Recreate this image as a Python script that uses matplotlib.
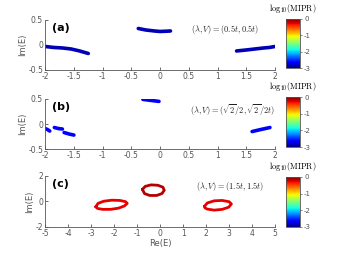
import matplotlib
matplotlib.use("Agg")
import matplotlib.pyplot as plt
import numpy as np
from matplotlib.colors import Normalize
from matplotlib.cm import ScalarMappable

# panel (a): (lambda, V) = (0.5t, 0.5t)
a_re = [[-2.0, -1.85, -1.7, -1.55, -1.4, -1.25],
        [-0.38, -0.25, -0.1, 0.0, 0.1, 0.18],
        [1.33, 1.5, 1.65, 1.8, 1.9, 2.0]]
a_im = [[-0.03, -0.05, -0.06, -0.08, -0.12, -0.17],
        [0.33, 0.3, 0.28, 0.27, 0.275, 0.28],
        [-0.12, -0.1, -0.08, -0.06, -0.05, -0.03]]
a_mipr = [-2.85, -2.85, -2.85]

# panel (b): (lambda, V) = (sqrt2/2, sqrt2/2t)
b_re = [[-2.0, -1.96, -1.92],
        [-1.84, -1.77, -1.7],
        [-1.67, -1.58, -1.5],
        [-0.3, -0.16, -0.02],
        [1.6, 1.75, 1.91]]
b_im = [[-0.09, -0.11, -0.14],
        [-0.07, -0.09, -0.1],
        [-0.17, -0.2, -0.22],
        [0.49, 0.47, 0.45],
        [-0.15, -0.11, -0.07]]
b_mipr = [-2.65, -2.65, -2.65, -2.65, -2.65]

# panel (c): (lambda, V) = (1.5t, 1.5t)
c_re = [[-2.8, -2.7, -2.45, -2.1, -1.75, -1.5, -1.43, -1.55, -1.8, -2.15, -2.5, -2.72, -2.8],
        [-0.77, -0.65, -0.4, -0.1, 0.12, 0.18, 0.08, -0.15, -0.45, -0.68, -0.77],
        [1.93, 2.05, 2.35, 2.7, 3.0, 3.1, 2.98, 2.7, 2.35, 2.05, 1.95, 1.93]]
c_im = [[-0.42, -0.15, 0.02, 0.1, 0.08, -0.02, -0.15, -0.35, -0.52, -0.62, -0.62, -0.55, -0.42],
        [0.95, 1.18, 1.3, 1.27, 1.12, 0.88, 0.62, 0.47, 0.47, 0.62, 0.95],
        [-0.38, -0.12, 0.05, 0.08, -0.02, -0.2, -0.45, -0.62, -0.68, -0.6, -0.5, -0.38]]
c_mipr = [-0.28, -0.15, -0.28]

labels = ["(a)", "(b)", "(c)"]
params = [r"$(\lambda, V) = (0.5t, 0.5t)$",
          r"$(\lambda, V) = (\sqrt{2}/2, \sqrt{2}/2t)$",
          r"$(\lambda, V) = (1.5t, 1.5t)$"]

plt.rcParams['mathtext.fontset'] = 'cm'
plt.rcParams['axes.unicode_minus'] = False
cmap = plt.get_cmap('jet')
norm = Normalize(vmin=-3, vmax=0)

fig = plt.figure(figsize=(3.5, 2.63), dpi=100)
ax_pos = [[0.129, 0.734, 0.657, 0.19],
          [0.129, 0.433, 0.657, 0.191],
          [0.129, 0.137, 0.657, 0.194]]
cb_pos = [[0.817, 0.741, 0.04, 0.187],
          [0.817, 0.441, 0.04, 0.19],
          [0.817, 0.137, 0.04, 0.19]]

panels = [(a_re, a_im, a_mipr), (b_re, b_im, b_mipr), (c_re, c_im, c_mipr)]
xlims = [(-2, 2), (-2, 2), (-5, 5)]
ylims = [(-0.5, 0.5), (-0.5, 0.5), (-2, 2)]
xticks = [np.arange(-2, 2.01, 0.5), np.arange(-2, 2.01, 0.5), np.arange(-5, 5.1, 1)]
yticks = [[-0.5, 0, 0.5], [-0.5, 0, 0.5], [-2, 0, 2]]
text_xy = [(1.13, 0.3), (1.25, 0.28), (3.04, 1.2)]
lw = [2.6, 2.6, 2.0]

gray = '#555555'
for i, (res, ims, mip) in enumerate(panels):
    ax = fig.add_axes(ax_pos[i])
    for xs, ys, m in zip(res, ims, mip):
        ax.plot(xs, ys, '-', color=cmap(norm(m)), lw=lw[i], solid_capstyle='round')
    ax.set_xlim(*xlims[i])
    ax.set_ylim(*ylims[i])
    ax.set_xticks(xticks[i])
    ax.set_xticklabels(['%g' % v for v in xticks[i]])
    ax.set_yticks(yticks[i])
    ax.set_yticklabels(['%g' % v for v in yticks[i]])
    for s in ['top', 'right']:
        ax.spines[s].set_visible(False)
    for s in ['left', 'bottom']:
        ax.spines[s].set_color(gray)
        ax.spines[s].set_linewidth(0.6)
    ax.tick_params(direction='in', length=2, width=0.6, labelsize=5.5,
                   colors=gray, pad=1.5)
    ax.set_ylabel("Im(E)", fontsize=6, color=gray, labelpad=1)
    ax.text(0.03, 0.84, labels[i], transform=ax.transAxes, fontsize=8,
            fontweight='bold', va='center', ha='left')
    ax.text(text_xy[i][0], text_xy[i][1], params[i], fontsize=6,
            ha='center', va='center', color='#222222')
    if i == 2:
        ax.set_xlabel("Re(E)", fontsize=6, color=gray, labelpad=1)

    cax = fig.add_axes(cb_pos[i])
    cb = fig.colorbar(ScalarMappable(norm=norm, cmap=cmap), cax=cax, ticks=[0, -1, -2, -3])
    cb.ax.tick_params(labelsize=5, length=1.5, width=0.5, pad=1.5, colors=gray)
    cb.outline.set_linewidth(0.6)
    cb.outline.set_edgecolor(gray)
    cax.set_title(r"$\mathrm{log_{10}(MIPR)}$", fontsize=6, pad=6)

fig.savefig("out.png", dpi=100)
